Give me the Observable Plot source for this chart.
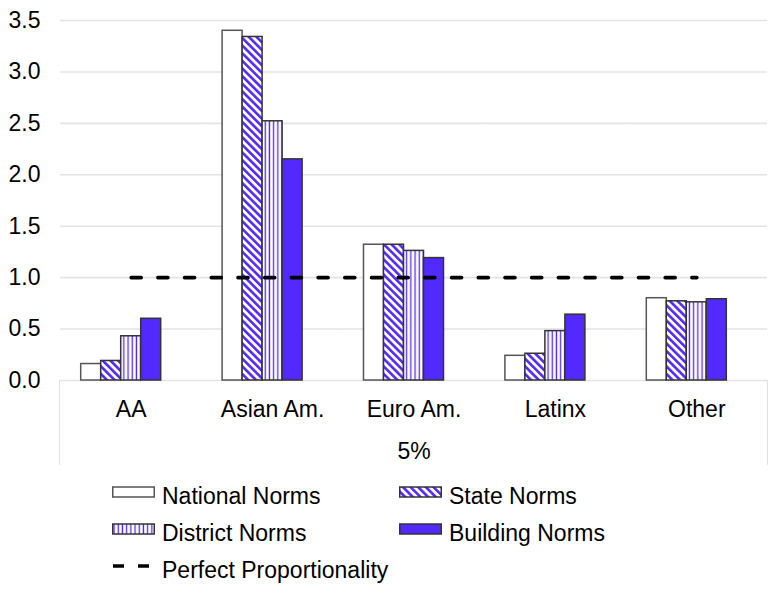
<!DOCTYPE html>
<html><head><meta charset="utf-8">
<script src="https://cdn.jsdelivr.net/npm/d3@7"></script>
<script src="https://cdn.jsdelivr.net/npm/@observablehq/plot@0.6"></script>
<style>
body{margin:0;background:#fff;font-family:"Liberation Sans",Arial,Helvetica,sans-serif;color:#000;}
#wrap{position:relative;width:781px;height:470px;}
#wrap svg{position:absolute;left:0;top:0;}
#table{position:absolute;left:59px;top:380px;width:709px;height:85px;border-left:1.5px solid #e2e2e2;border-right:1.5px solid #e2e2e2;box-sizing:border-box;}
.legend{display:grid;grid-template-columns:287px 287px;grid-auto-rows:37px;padding-left:112px;padding-top:3px;font-size:23px;}
.item{display:flex;align-items:center;white-space:nowrap;}
.item svg{margin-right:7px;flex:none;}
.item span{position:relative;top:5px;}
</style></head><body>
<div id="wrap"><div id="table"></div></div>
<div class="legend" id="legend"></div>
<script>
const categories = ["AA", "Asian Am.", "Euro Am.", "Latinx", "Other"];
const seriesNames = ["National Norms", "State Norms", "District Norms", "Building Norms", "Perfect Proportionality"];
const national = [0.16, 3.40, 1.32, 0.24, 0.80];
const state = [0.19, 3.34, 1.32, 0.26, 0.77];
const district = [0.43, 2.52, 1.26, 0.48, 0.76];
const building = [0.60, 2.15, 1.19, 0.64, 0.79];
const proportionality = [1, 1, 1, 1, 1];
const yTicks = [0, 0.5, 1, 1.5, 2, 2.5, 3, 3.5];
const footLabel = "5%";

const BLUE = "#5229ff";
const barSeries = [national, state, district, building];
const fills = {"National Norms": "white", "State Norms": "url(#diagStripe)", "District Norms": "url(#vertStripe)", "Building Norms": BLUE};
const strokes = {"National Norms": "#555", "State Norms": "#333", "District Norms": "#333", "Building Norms": "#333"};

const rows = categories.flatMap((c, i) => barSeries.map((arr, j) => ({cat: c, series: seriesNames[j], value: arr[i]})));
const lineRows = categories.map((c, i) => ({cat: c, value: proportionality[i]}));

const W = 781, H = 470;
const common = {
  width: W, height: H, marginLeft: 60, marginRight: 14, marginTop: 20, marginBottom: 90,
  style: {fontFamily: '"Liberation Sans", Arial, Helvetica, sans-serif', fontSize: "23px", color: "#000", background: "transparent", overflow: "visible"}
};

const bars = Plot.plot({
  ...common,
  fx: {domain: categories, padding: 0, round: false, axis: null, label: null},
  x: {domain: seriesNames, paddingInner: 0, paddingOuter: 1.035, round: false, axis: null},
  y: {domain: [0, 3.5], axis: null},
  marks: [
    Plot.gridY(yTicks, {stroke: "#e3e3e3", strokeOpacity: 1, strokeWidth: 1.6}),
    ...seriesNames.slice(0, 4).map(s =>
      Plot.barY(rows.filter(d => d.series === s), {fx: "cat", x: "series", y: "value", fill: fills[s], stroke: strokes[s], strokeWidth: 1.5})
    ),
    Plot.axisY(yTicks, {tickSize: 0, tickPadding: 20, tickFormat: d3.format(".1f"), fontSize: 23, fill: "#000", label: null})
  ]
});

const defs = d3.select(bars).insert("defs", ":first-child");
const p1 = defs.append("pattern").attr("id", "diagStripe").attr("patternUnits", "userSpaceOnUse")
  .attr("width", 5.4).attr("height", 5.4).attr("patternTransform", "rotate(-45)");
p1.append("rect").attr("width", 5.4).attr("height", 5.4).attr("fill", "white");
p1.append("rect").attr("width", 2.6).attr("height", 5.4).attr("fill", BLUE);
const p2 = defs.append("pattern").attr("id", "vertStripe").attr("patternUnits", "userSpaceOnUse")
  .attr("width", 4.2).attr("height", 10);
p2.append("rect").attr("width", 4.2).attr("height", 10).attr("fill", "white");
p2.append("rect").attr("x", 1.4).attr("width", 1.3).attr("height", 10).attr("fill", BLUE);

const overlay = Plot.plot({
  ...common,
  x: {type: "band", domain: categories, padding: 0, round: false, axis: null},
  y: {domain: [0, 3.5], axis: null},
  marks: [
    Plot.lineY(lineRows, {x: "cat", y: "value", stroke: "#000", strokeWidth: 3.6, strokeDasharray: "10,16.7", strokeLinecap: "round"}),
    Plot.axisX(categories, {anchor: "bottom", tickSize: 0, tickPadding: 20, fontSize: 23, fill: "#000", label: null}),
    Plot.text([footLabel], {frameAnchor: "bottom", lineAnchor: "middle", dy: 71, fontSize: 23, fill: "#000"})
  ]
});
overlay.style.pointerEvents = "none";

const wrap = document.getElementById("wrap");
wrap.appendChild(bars);
wrap.appendChild(overlay);

// Legend
const legendOrder = ["National Norms", "State Norms", "District Norms", "Building Norms", "Perfect Proportionality"];
const legend = d3.select("#legend");
for (const s of legendOrder) {
  const item = legend.append("div").attr("class", "item");
  const sw = item.append("svg").attr("width", 43).attr("height", 14);
  if (s === "Perfect Proportionality") {
    sw.append("line").attr("x1", 1).attr("x2", 42).attr("y1", 7).attr("y2", 7)
      .attr("stroke", "#000").attr("stroke-width", 3.6).attr("stroke-dasharray", "11,14").attr("stroke-linecap", "butt");
  } else {
    sw.append("rect").attr("x", 0.75).attr("y", 2).attr("width", 41.5).attr("height", 10)
      .attr("fill", fills[s]).attr("stroke", strokes[s]).attr("stroke-width", 1.5);
  }
  item.append("span").text(s);
}
</script>
</body></html>
